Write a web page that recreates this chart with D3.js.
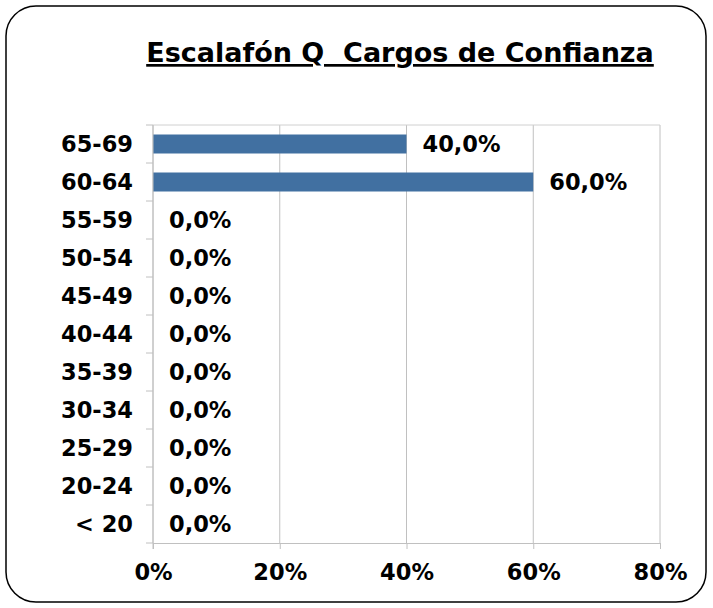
<!DOCTYPE html>
<html>
<head>
<meta charset="utf-8">
<script src="https://cdn.jsdelivr.net/npm/d3@7"></script>
<style>
  body { margin: 0; background: #fff; }
  text { font-family: "DejaVu Sans", Verdana, sans-serif; font-weight: bold; fill: #000; }
</style>
</head>
<body>
<svg id="viz" width="713" height="608"></svg>
<script>
// categories top to bottom, values as fractions
var categories = ["65-69", "60-64", "55-59", "50-54", "45-49", "40-44", "35-39", "30-34", "25-29", "20-24", "< 20"];
var values = [0.40, 0.60, 0, 0, 0, 0, 0, 0, 0, 0, 0];
var xTicks = [0, 0.2, 0.4, 0.6, 0.8];
var title = "Escalafón Q  Cargos de Confianza";

var data = categories.map(function (c, i) { return { cat: c, val: values[i] }; });

var svg = d3.select("#viz");
var margin = { top: 125, left: 153, right: 53, bottom: 65 };
var w = 713 - margin.left - margin.right,
    h = 608 - margin.top - margin.bottom;
var fs = "22.5px";

// frame
svg.append("rect")
    .attr("x", 6).attr("y", 6)
    .attr("width", 700).attr("height", 596)
    .attr("rx", 30).attr("ry", 30)
    .attr("fill", "#fff").attr("stroke", "#000").attr("stroke-width", 1.5);

// title
svg.append("text")
    .attr("x", 400).attr("y", 62)
    .attr("text-anchor", "middle")
    .style("font-size", "27px")
    .style("white-space", "pre")
    .style("text-decoration", "underline")
    .text(title);

var g = svg.append("g").attr("transform", "translate(" + margin.left + "," + margin.top + ")");

var xScale = d3.scaleLinear().domain([0, 0.8]).range([0, w]);
var yScale = d3.scaleBand().domain(categories).range([0, h]).paddingInner(0.5).paddingOuter(0.25);

// gridlines
g.selectAll(".grid")
    .data(xTicks)
    .enter().append("line")
    .attr("class", "grid")
    .attr("x1", function (d) { return xScale(d); })
    .attr("x2", function (d) { return xScale(d); })
    .attr("y1", 0).attr("y2", h)
    .attr("stroke", "#c0c0c0").attr("stroke-width", 1);
g.append("line")
    .attr("x1", 0).attr("x2", w).attr("y1", 0).attr("y2", 0)
    .attr("stroke", "#d0d0d0");

// bars
g.selectAll(".bar")
    .data(data)
    .enter().append("rect")
    .attr("class", "bar")
    .attr("x", 0)
    .attr("y", function (d) { return yScale(d.cat); })
    .attr("width", function (d) { return xScale(d.val); })
    .attr("height", yScale.bandwidth())
    .attr("fill", "#4170a1");

// value labels
g.selectAll(".lbl")
    .data(data)
    .enter().append("text")
    .attr("class", "lbl")
    .attr("x", function (d) { return xScale(d.val) + 16; })
    .attr("y", function (d) { return yScale(d.cat) + yScale.bandwidth() / 2; })
    .attr("dy", "0.36em")
    .style("font-size", fs)
    .text(function (d) { return d3.format(".1f")(d.val * 100).replace(".", ",") + "%"; });

// y axis
var step = yScale.step();
var yAxisG = g.append("g");
yAxisG.append("line").attr("x1", 0).attr("x2", 0).attr("y1", 0).attr("y2", h + 6).attr("stroke", "#c0c0c0");
yAxisG.selectAll(".ytick")
    .data(d3.range(categories.length + 1))
    .enter().append("line")
    .attr("x1", -7).attr("x2", 0)
    .attr("y1", function (i) { return i * step; })
    .attr("y2", function (i) { return i * step; })
    .attr("stroke", "#c0c0c0");
yAxisG.selectAll(".ylab")
    .data(categories)
    .enter().append("text")
    .attr("x", -20)
    .attr("y", function (d) { return yScale(d) + yScale.bandwidth() / 2; })
    .attr("dy", "0.36em")
    .attr("text-anchor", "end")
    .style("font-size", fs)
    .text(function (d) { return d; });

// x axis
var xAxis = d3.axisBottom(xScale).tickValues(xTicks).tickSize(6).tickFormat(d3.format(".0%"));
var xg = g.append("g").attr("transform", "translate(0," + h + ")").call(xAxis);
xg.select(".domain").attr("stroke", "#c0c0c0");
xg.selectAll(".tick line").attr("stroke", "#c0c0c0");
xg.selectAll(".tick text")
    .attr("y", 21).attr("dy", "0.71em")
    .style("font-size", fs)
    .style("font-family", "DejaVu Sans, Verdana, sans-serif")
    .style("font-weight", "bold")
    .attr("fill", "#000");
</script>
</body>
</html>
